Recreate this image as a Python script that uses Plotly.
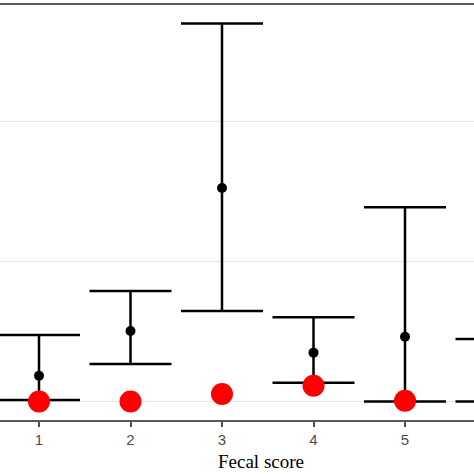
import plotly.graph_objects as go

# fecal score groups
scores = [1, 2, 3, 4, 5, 6]
means = [0.184, 0.504, 1.525, 0.349, 0.463, 0.20]
upper = [0.475, 0.79, 2.70, 0.601, 1.387, 0.446]
lower = [0.01, 0.268, 0.646, 0.134, 0.0, 0.0]
red_vals = [0.0, 0.0, 0.054, 0.113, 0.006, 0.0]

err_plus = [u - m for u, m in zip(upper, means)]
err_minus = [m - l for m, l in zip(means, lower)]

fig = go.Figure()
fig.add_trace(go.Scatter(
    x=scores, y=means, mode="markers",
    marker=dict(color="black", size=10),
    error_y=dict(type="data", symmetric=False, array=err_plus, arrayminus=err_minus,
                 color="black", thickness=2.5, width=41),
    showlegend=False,
))
fig.add_trace(go.Scatter(
    x=scores, y=red_vals, mode="markers",
    marker=dict(color="#ff0000", size=22),
    showlegend=False,
))

fig.update_layout(
    width=474, height=474,
    margin=dict(l=0, r=0, t=5, b=54),
    plot_bgcolor="white", paper_bgcolor="white",
)
fig.update_xaxes(
    range=[0.5738, 5.754], tickvals=scores, showgrid=False, zeroline=False,
    showline=True, linecolor="#5a5a5a", linewidth=1.5, mirror=True,
    ticks="outside", ticklen=5, tickwidth=1.5, tickcolor="#4d4d4d",
    tickfont=dict(family="Liberation Sans", size=15, color="#4d4d4d"),
)
fig.update_yaxes(
    range=[-0.132, 2.832], tickvals=[0, 1, 2], showticklabels=False,
    showgrid=True, gridcolor="#e6e6e6", gridwidth=1.3, zeroline=False,
)
# the panel is cropped on the right, so the x title sits right of the visible centre
fig.add_annotation(
    text="Fecal score", xref="x", x=3.43, yref="paper", y=-0.101,
    showarrow=False, xanchor="center", yanchor="middle",
    font=dict(family="Liberation Serif", size=19, color="black"),
)

fig.write_html("out.html", config={"displayModeBar": False},
               post_script="document.body.style.margin='0';")
